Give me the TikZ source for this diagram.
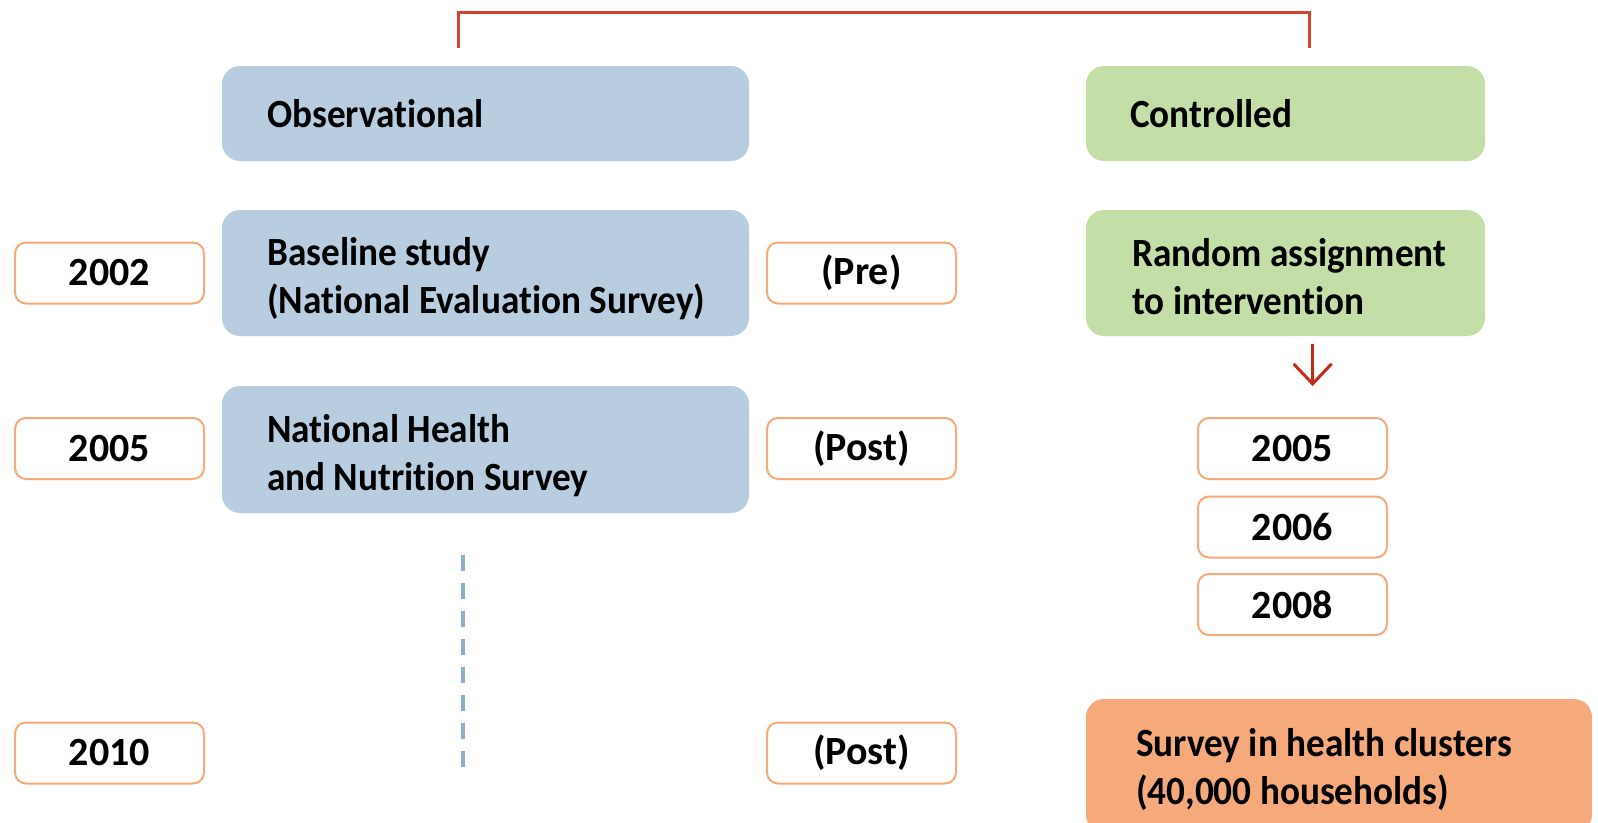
\documentclass[tikz,border=0pt]{standalone}
\usepackage{fontspec}
\setmainfont{Carlito}
\newfontfamily\narrowfont[FakeStretch=0.93, Ligatures={NoCommon}]{Carlito}
\usetikzlibrary{arrows.meta}
\definecolor{obsblue}{RGB}{185,205,225}
\definecolor{ctlgreen}{RGB}{196,222,168}
\definecolor{survorange}{RGB}{246,170,123}
\definecolor{yearline}{RGB}{247,170,122}
\definecolor{brackred}{RGB}{214,66,42}
\definecolor{arrred}{RGB}{196,44,22}
\definecolor{dashblue}{RGB}{143,173,205}
\tikzset{
  bigbox/.style={rectangle, rounded corners=18pt, draw=none, inner sep=0pt},
  yearbox/.style={rectangle, rounded corners=11pt, draw=yearline, line width=2pt, fill=white,
    minimum width=189pt, minimum height=61pt, inner sep=0pt,
    font=\fontsize{40}{48}\selectfont\bfseries},
  txt/.style={anchor=west, inner sep=0pt, align=left, font=\narrowfont\fontsize{40}{48}\selectfont\bfseries},
  bracket/.style={draw=brackred, line width=3pt},
  downarrow/.style={draw=arrred, line width=3pt, -{Straight Barb[length=20pt,width=38pt,line width=3pt]}},
  timeline/.style={draw=dashblue, line width=4pt, dash pattern=on 16pt off 12pt}
}
\begin{document}
\begin{tikzpicture}[x=1pt,y=-1pt]
\useasboundingbox (0,0) rectangle (1598,822);
\clip (0,0) rectangle (1598,822);
% big boxes
\node[bigbox, fill=obsblue, minimum width=527pt, minimum height=95pt] (obs) at (485.5,113.5) {};
\node[txt] (obst) at (267,114) {Observational};
\node[bigbox, fill=ctlgreen, minimum width=399pt, minimum height=95pt] (ctl) at (1285.5,113.5) {};
\node[txt] (ctlt) at (1130,114) {Controlled};
\node[bigbox, fill=obsblue, minimum width=527pt, minimum height=126pt] (base) at (485.5,273) {};
\node[txt] (baset) at (267,279) {Baseline study\\(National Evaluation Survey)};
\node[bigbox, fill=ctlgreen, minimum width=399pt, minimum height=126pt] (rand) at (1285.5,273) {};
\node[txt] (randt) at (1132,276.5) {Random assignment\\to intervention};
\node[bigbox, fill=obsblue, minimum width=527pt, minimum height=127pt] (nat) at (485.5,449.5) {};
\node[txt] (natt) at (267,455.5) {National Health\\and Nutrition Survey};
\node[bigbox, fill=survorange, minimum width=506pt, minimum height=134pt] (surv) at (1339,766) {};
\node[txt] (survt) at (1136,769) {Survey in health clusters\\(40,000 households)};
% year boxes left
\node[yearbox] (y2002) at (109.5,273) {2002};
\node[yearbox] (y2005) at (109.5,448.5) {2005};
\node[yearbox] (y2010) at (109.5,753) {2010};
% middle
\node[yearbox] (pre) at (861.5,273) {(Pre)};
\node[yearbox] (post1) at (861.5,448.5) {(Post)};
\node[yearbox] (post2) at (861.5,753) {(Post)};
% right years
\node[yearbox] (r2005) at (1292.5,448.5) {2005};
\node[yearbox] (r2006) at (1292.5,527) {2006};
\node[yearbox] (r2008) at (1292.5,604.5) {2008};
% bracket
\coordinate (bl) at (458.6,48);
\coordinate (br) at (1309.5,48);
\coordinate (btop) at (884,12.5);
\draw[bracket] (bl) |- (btop) -| (br);
% arrow
\coordinate (a1) at (1312.6,344);
\coordinate (a2) at (1312.6,386);
\draw[downarrow] (a1) -- (a2);
% dashed timeline
\coordinate (d1) at (462.7,555);
\coordinate (d2) at (462.7,767);
\draw[timeline] (d1) -- (d2);
\end{tikzpicture}
\end{document}
